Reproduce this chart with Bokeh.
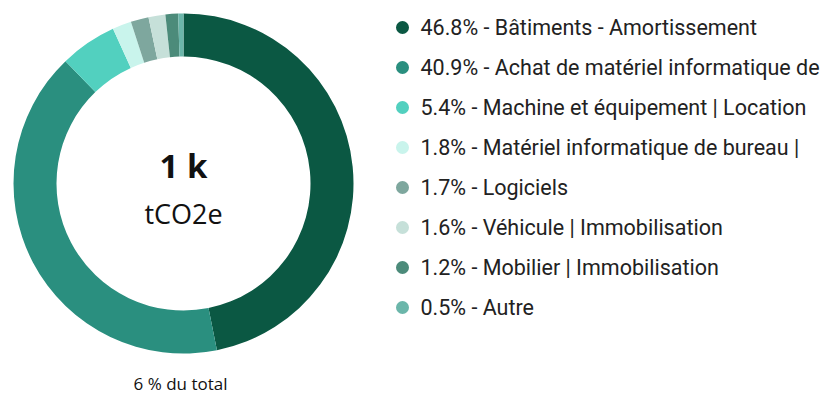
import math
from bokeh.plotting import figure
from bokeh.models import Range1d, ColumnDataSource
from bokeh.core.properties import value
from bokeh.embed import file_html
from bokeh.resources import INLINE

categories = [
    "Bâtiments - Amortissement",
    "Achat de matériel informatique de",
    "Machine et équipement | Location",
    "Matériel informatique de bureau |",
    "Logiciels",
    "Véhicule | Immobilisation",
    "Mobilier | Immobilisation",
    "Autre",
]
shares = [46.8, 40.9, 5.4, 1.8, 1.7, 1.6, 1.2, 0.5]
colors = ["#0b5843", "#2a8f7f", "#52d0bf", "#c9f4ec", "#7ea79e", "#c6e0d9", "#4c8b7a", "#6bb6aa"]
total_label = "1 k"
unit_label = "tCO2e"
footer_label = "6 % du total"

W, H = 822, 400
p = figure(width=W, height=H, output_backend="svg", toolbar_location=None,
           x_range=Range1d(0, W), y_range=Range1d(0, H), min_border=0)
p.axis.visible = False
p.grid.visible = False
p.outline_line_color = None
p.background_fill_color = "white"
p.border_fill_color = "white"

# donut
cx, cy = 183, 217
r_in, r_out = 127, 170
tot = sum(shares)
starts, ends = [], []
acc = 0.0
for s in shares:
    starts.append(math.pi / 2 - 2 * math.pi * acc / tot)
    acc += s
    ends.append(math.pi / 2 - 2 * math.pi * acc / tot)
src = ColumnDataSource(dict(x=[cx] * len(shares), y=[cy] * len(shares),
                            start=starts, end=ends, color=colors))
p.annular_wedge(x="x", y="y", inner_radius=r_in, outer_radius=r_out,
                start_angle="start", end_angle="end", direction="clock",
                fill_color="color", line_color=None, source=src)

p.text(x=[cx], y=[235], text=[total_label], text_font=value("Open Sans"),
       text_font_style="bold", text_font_size="33px", text_align="center",
       text_baseline="middle", text_color="#111111")
p.text(x=[cx], y=[187], text=[unit_label], text_font=value("Open Sans"),
       text_font_size="27px", text_align="center", text_baseline="middle",
       text_color="#111111")

# legend
lx, ly0, step = 402, 373, 40
labels = [f"{s:.1f}% - {c}" for s, c in zip(shares, categories)]
lys = [ly0 - step * i for i in range(len(shares))]
lsrc = ColumnDataSource(dict(x=[lx] * len(shares), y=lys, color=colors,
                             tx=[lx + 18] * len(shares), label=labels))
p.scatter(x="x", y="y", size=13, fill_color="color", line_color=None, source=lsrc)
p.text(x="tx", y="y", text="label", text_font=value("Roboto"), text_font_size="21.5px",
       text_baseline="middle", text_color="#222222", source=lsrc)

p.text(x=[180], y=[17], text=[footer_label], text_font=value("Open Sans"),
       text_font_size="17px", text_align="center", text_baseline="middle",
       text_color="#111111")

open("out.html", "w").write(file_html(p, INLINE))
